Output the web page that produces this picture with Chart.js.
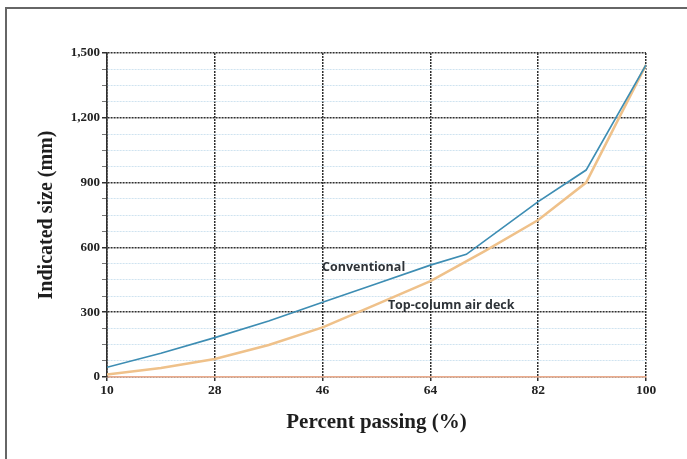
<!DOCTYPE html>
<html>
<head>
<meta charset="utf-8">
<script src="https://cdn.jsdelivr.net/npm/chart.js@4.4.1/dist/chart.umd.min.js"></script>
<style>
  html, body { margin: 0; padding: 0; background: #fff; }
  #wrap { width: 687px; height: 459px; position: relative; }
</style>
</head>
<body>
<div id="wrap"><canvas id="c" width="687" height="459"></canvas></div>
<script>
// Percent passing values (x) and indicated fragment sizes (y, mm)
const passingConventional = [10, 19, 28, 37, 46, 55, 64, 70, 82, 90, 100];
const sizeConventional    = [45, 110, 182, 259, 346, 432, 518, 568, 812, 958, 1445];

const passingAirDeck = [10, 19, 28, 37, 46, 55, 64, 73, 82, 90, 100];
const sizeAirDeck    = [12, 42, 83, 148, 230, 336, 444, 582, 727, 900, 1445];

const xTicks = [10, 28, 46, 64, 82, 100];
const yTicks = [0, 300, 600, 900, 1200, 1500];

const seriesNames = ['Conventional', 'Top-column air deck'];
// in-plot labels: [text, x value, y value]
const curveLabels = [
  ['Conventional', 45.9, 505],
  ['Top-column air deck', 56.9, 333]
];

const toPoints = (xs, ys) => xs.map((x, i) => ({ x: x, y: ys[i] }));

const SERIF = '"Liberation Serif", "DejaVu Serif", serif';
const MAJOR = '#2f2f2f';
const MINOR = '#cfe3f0';

const framePlugin = {
  id: 'frame',
  beforeDraw(chart) {
    const ctx = chart.ctx;
    ctx.save();
    ctx.fillStyle = '#fff';
    ctx.fillRect(0, 0, chart.width, chart.height);
    ctx.strokeStyle = '#666';
    ctx.lineWidth = 2;
    ctx.strokeRect(6, 8, chart.width + 20, chart.height + 20);
    ctx.restore();
  }
};

const curveLabelPlugin = {
  id: 'curveLabels',
  afterDatasetsDraw(chart) {
    const { ctx, scales } = chart;
    ctx.save();
    ctx.font = 'bold 12.5px "Open Sans", "DejaVu Sans", sans-serif';
    ctx.fillStyle = '#2e3338';
    ctx.textAlign = 'left';
    ctx.textBaseline = 'middle';
    curveLabels.forEach(([t, xv, yv]) => {
      ctx.fillText(t, scales.x.getPixelForValue(xv), scales.y.getPixelForValue(yv));
    });
    ctx.restore();
  }
};

new Chart(document.getElementById('c'), {
  type: 'line',
  data: {
    datasets: [
      {
        label: seriesNames[0],
        data: toPoints(passingConventional, sizeConventional),
        borderColor: '#3d8db3',
        borderWidth: 1.7,
        pointRadius: 0,
        tension: 0,
        order: 1
      },
      {
        label: seriesNames[1],
        data: toPoints(passingAirDeck, sizeAirDeck),
        borderColor: '#efc18a',
        borderWidth: 2.5,
        pointRadius: 0,
        tension: 0,
        order: 2
      }
    ]
  },
  options: {
    responsive: false,
    animation: false,
    layout: { padding: { left: 0, right: 41, top: 53, bottom: 0 } },
    plugins: {
      legend: { display: false },
      tooltip: { enabled: false }
    },
    scales: {
      x: {
        type: 'linear',
        min: 10,
        max: 100,
        afterFit(s) { s.height = 82; },
        afterBuildTicks(s) { s.ticks = xTicks.map(v => ({ value: v })); },
        ticks: {
          font: { family: SERIF, size: 13.5, weight: 'bold' },
          color: '#222',
          padding: 1,
          maxRotation: 0
        },
        grid: {
          color: MAJOR,
          lineWidth: 1.5,
          tickLength: 4,
          tickColor: MAJOR
        },
        border: { color: '#ebab8c', width: 1.6, dash: [2, 1] },
        title: {
          display: true,
          text: 'Percent passing (%)',
          font: { family: SERIF, size: 21, weight: 'bold' },
          color: '#1e1e1e',
          padding: { top: 0, bottom: 24 }
        }
      },
      y: {
        type: 'linear',
        min: 0,
        max: 1500,
        afterFit(s) { s.width = 107; },
        ticks: {
          stepSize: 75,
          autoSkip: false,
          font: { family: SERIF, size: 13, weight: 'bold' },
          color: '#222',
          padding: 2,
          callback: v => (yTicks.includes(v) ? v.toLocaleString('en-US') : '')
        },
        grid: {
          color: c => (c.tick && c.tick.value % 300 === 0 ? MAJOR : MINOR),
          lineWidth: c => (c.tick && c.tick.value % 300 === 0 ? 1.5 : 1),
          tickLength: 5,
          tickColor: c => (c.tick && c.tick.value % 300 === 0 ? MAJOR : '#777')
        },
        border: { color: MAJOR, width: 1.6, dash: [2, 1] },
        title: {
          display: true,
          text: 'Indicated size (mm)',
          font: { family: SERIF, size: 20, weight: 'bold' },
          color: '#1e1e1e',
          padding: { top: 35, bottom: 0 }
        }
      }
    }
  },
  plugins: [framePlugin, curveLabelPlugin]
});
</script>
</body>
</html>
